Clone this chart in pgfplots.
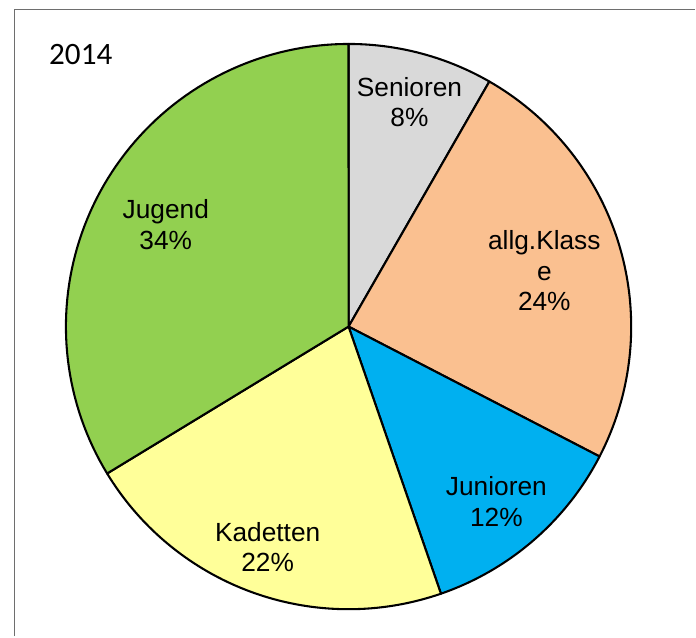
\documentclass[border=0pt]{standalone}
\usepackage{fontspec}
\setmainfont{Liberation Sans}
\newfontfamily\calibri{Carlito}
\usepackage{pgfplots}
\pgfplotsset{compat=1.18}

\definecolor{cSen}{HTML}{D9D9D9}
\definecolor{cAllg}{HTML}{FAC090}
\definecolor{cJun}{HTML}{00B0F0}
\definecolor{cKad}{HTML}{FFFF99}
\definecolor{cJug}{HTML}{92D050}
\definecolor{frame}{RGB}{110,110,110}

% shares (percent): Senioren 8.3, allg.Klasse 24.3, Junioren 12.1, Kadetten 21.6, Jugend 33.7
\begin{document}
\begin{tikzpicture}
\begin{axis}[
    x=0.01in, y=0.01in,
    xmin=0, xmax=696, ymin=0, ymax=637,
    y dir=reverse,
    hide axis,
    clip=false,
    samples=80,
    every axis plot/.append style={draw=black, line width=1.5pt, line join=round},
]
% keep the whole 696x637 area as the picture
\path (0,0) (696,637);
% frame of the chart area
\draw[frame, line width=1.3pt] (14.5,637) -- (14.5,9.5) -- (696,9.5);

\addplot[fill=cSen, domain=0*3.6:8.3*3.6]
  ({349+283*sin(x)},{327-283*cos(x)}) -- (349,327) -- cycle;
\addplot[fill=cAllg, domain=8.3*3.6:(8.3+24.3)*3.6]
  ({349+283*sin(x)},{327-283*cos(x)}) -- (349,327) -- cycle;
\addplot[fill=cJun, domain=(8.3+24.3)*3.6:(8.3+24.3+12.1)*3.6]
  ({349+283*sin(x)},{327-283*cos(x)}) -- (349,327) -- cycle;
\addplot[fill=cKad, domain=(8.3+24.3+12.1)*3.6:(8.3+24.3+12.1+21.6)*3.6]
  ({349+283*sin(x)},{327-283*cos(x)}) -- (349,327) -- cycle;
\addplot[fill=cJug, domain=(8.3+24.3+12.1+21.6)*3.6:(8.3+24.3+12.1+21.6+33.7)*3.6]
  ({349+283*sin(x)},{327-283*cos(x)}) -- (349,327) -- cycle;

\begin{scope}[every node/.style={align=center, font=\fontsize{19}{22}\selectfont}]
\node at (410,102.5) {Senioren\\8\%};
\node at (545,271) {allg.Klass\\e\\24\%};
\node at (497,502) {Junioren\\12\%};
\node at (268,548) {Kadetten\\22\%};
\node at (166,225) {Jugend\\34\%};
\end{scope}
\node[anchor=west, inner sep=0pt, font=\calibri\fontsize{22.5}{26}\selectfont] at (49,55) {2014};
\end{axis}
\end{tikzpicture}
\end{document}
